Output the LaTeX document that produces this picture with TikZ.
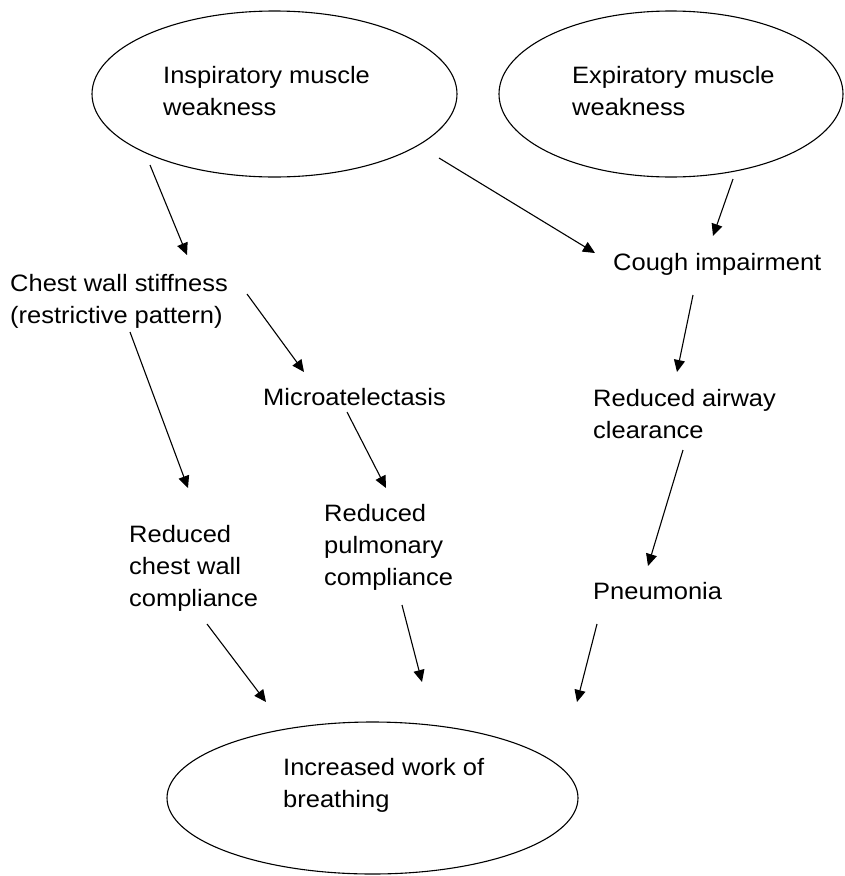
\documentclass[tikz,border=0pt]{standalone}
\usepackage{fontspec}
\setmainfont[FakeStretch=1.075]{Liberation Sans}
\usetikzlibrary{shapes.geometric,arrows.meta}
\tikzset{
  oval/.style={draw, ellipse, line width=1.1pt, inner sep=0pt},
  lbl/.style={anchor=base west, inner sep=0pt, font=\fontsize{23.7}{32}\selectfont},
  arr/.style={line width=1.1pt, -{Triangle[length=12pt,width=11pt]}}
}
\newcommand{\ml}[1]{\begin{tabular}[t]{@{}l@{}}#1\end{tabular}}
\begin{document}
\begin{tikzpicture}[x=1pt,y=-1pt]
\useasboundingbox (0,0) rectangle (845,876);
% ellipses
\node[oval, minimum width=365pt, minimum height=166pt] (insp) at (274.5,94) {};
\node[oval, minimum width=344pt, minimum height=166pt] (exp) at (671,94) {};
\node[oval, minimum width=411pt, minimum height=152pt] (work) at (372.5,798) {};
% labels
\node[lbl] (insptxt) at (163,83) {\ml{Inspiratory muscle\\weakness}};
\node[lbl] (exptxt) at (572,83) {\ml{Expiratory muscle\\weakness}};
\node[lbl] (cough) at (613,270) {Cough impairment};
\node[lbl] (chest) at (10,291) {\ml{Chest wall stiffness\\(restrictive pattern)}};
\node[lbl] (micro) at (263,405) {Microatelectasis};
\node[lbl] (airway) at (593,406) {\ml{Reduced airway\\clearance}};
\node[lbl] (rcwc) at (129,542) {\ml{Reduced\\chest wall\\compliance}};
\node[lbl] (rpc) at (324,521) {\ml{Reduced\\pulmonary\\compliance}};
\node[lbl] (pneu) at (593,599) {Pneumonia};
\node[lbl] (worktxt) at (283,775) {\ml{Increased work of\\breathing}};
% arrow end points
\coordinate (a1s) at (150,165); \coordinate (a1e) at (187,255);
\coordinate (a2s) at (439,158); \coordinate (a2e) at (595,253);
\coordinate (a3s) at (733,179); \coordinate (a3e) at (713,236);
\coordinate (a4s) at (247,294); \coordinate (a4e) at (304,372);
\coordinate (a5s) at (130,332); \coordinate (a5e) at (188,488);
\coordinate (a6s) at (347,412); \coordinate (a6e) at (386,488);
\coordinate (a7s) at (693,295); \coordinate (a7e) at (677,372);
\coordinate (a8s) at (683,450); \coordinate (a8e) at (648,566);
\coordinate (a9s) at (207,624); \coordinate (a9e) at (266,702);
\coordinate (a10s) at (402,605); \coordinate (a10e) at (422,682);
\coordinate (a11s) at (597,624); \coordinate (a11e) at (577,702);
\draw[arr] (a1s) -- (a1e);
\draw[arr] (a2s) -- (a2e);
\draw[arr] (a3s) -- (a3e);
\draw[arr] (a4s) -- (a4e);
\draw[arr] (a5s) -- (a5e);
\draw[arr] (a6s) -- (a6e);
\draw[arr] (a7s) -- (a7e);
\draw[arr] (a8s) -- (a8e);
\draw[arr] (a9s) -- (a9e);
\draw[arr] (a10s) -- (a10e);
\draw[arr] (a11s) -- (a11e);
\end{tikzpicture}
\end{document}
